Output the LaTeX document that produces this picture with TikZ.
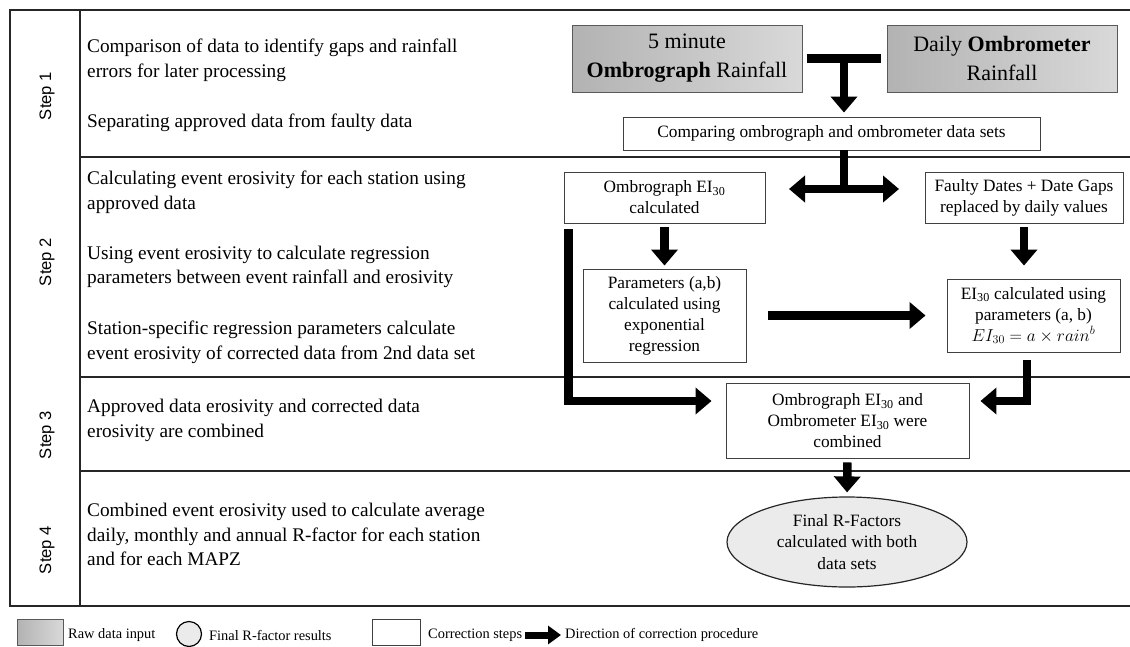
\documentclass[tikz,border=0pt]{standalone}
\usepackage{fontspec}
\setmainfont{Liberation Serif}
\newfontfamily\stepfont{Liberation Sans}
\usetikzlibrary{arrows.meta, shapes.geometric}

\begin{document}
\begin{tikzpicture}[x=1pt, y=-1pt,
    frameline/.style={line width=1.6pt, draw=black!85},
    rawbox/.style={draw=black!65, line width=1pt, left color=black!30, right color=black!15,
        minimum width=230pt, minimum height=67pt, align=center, inner sep=0pt,
        font=\fontsize{22}{29}\selectfont},
    stepbox/.style={draw=black!75, line width=0.9pt, fill=white, align=center, inner sep=0pt,
        font=\fontsize{17.3}{21}\selectfont},
    result/.style={ellipse, draw=black!85, line width=1.2pt, fill=black!8, align=center,
        inner sep=0pt, minimum width=240pt, minimum height=90pt,
        font=\fontsize{17.3}{21.5}\selectfont},
    note/.style={anchor=west, align=left, inner sep=0pt, font=\fontsize{19.3}{24.7}\selectfont},
    steplabel/.style={rotate=90, inner sep=0pt, font=\stepfont\fontsize{16.6}{20}\selectfont},
    legend/.style={anchor=west, inner sep=0pt, font=\fontsize{14.4}{17}\selectfont},
    bar/.style={line width=8.5pt},
    flow/.style={line width=8.5pt, -{Triangle[width=26pt,length=16pt]}},
    dflow/.style={line width=8.5pt, {Triangle[width=26pt,length=16pt]}-{Triangle[width=26pt,length=16pt]}}]

    \useasboundingbox (0,0) rectangle (1130,646);

    % Frame and step rows
    \draw[frameline] (1130,10) -- (10,10) -- (10,606) -- (1130,606);
    \draw[frameline] (80,10) -- (80,606);
    \foreach \y in {157,377,471} {
        \draw[frameline] (80,\y) -- (1130,\y);
    }

    % Step labels
    \foreach \n/\y in {1/96,2/262,3/435,4/550} {
        \node[steplabel] (step\n) at (47,\y) {Step \n};
    }

    % Step descriptions
    \node[note] (s1a) at (87,60.5) {Comparison of data to identify gaps and rainfall\\errors for later processing};
    \node[note] (s1b) at (87,123) {Separating approved data from faulty data};
    \node[note] (s2a) at (87,192) {Calculating event erosivity for each station using\\approved data};
    \node[note] (s2b) at (87,267) {Using event erosivity to calculate regression\\parameters between event rainfall and erosivity};
    \node[note] (s2c) at (87,342.5) {Station-specific regression parameters calculate\\event erosivity of corrected data from 2nd data set};
    \node[note] (s3a) at (87,420.5) {Approved data erosivity and corrected data\\erosivity are combined};
    \node[note] (s4a) at (87,534.5) {Combined event erosivity used to calculate average\\daily, monthly and annual R-factor for each station\\and for each MAPZ};

    % Raw data
    \node[rawbox] (raw1) at (687,58.5) {5 minute\\\textbf{Ombrograph} Rainfall};
    \node[rawbox] (raw2) at (1002,58.5) {Daily \textbf{Ombrometer}\\Rainfall};

    % Correction steps
    \node[stepbox, minimum width=417pt, minimum height=33pt] (cmp) at (831.5,133.5) {Comparing ombrograph and ombrometer data sets};
    \node[stepbox, minimum width=201pt, minimum height=51pt] (eiA) at (664.5,197.5) {Ombrograph EI\textsubscript{30}\\calculated};
    \node[stepbox, minimum width=198pt, minimum height=51pt] (gaps) at (1024,197.5) {Faulty Dates + Date Gaps\\replaced by daily values};
    \node[stepbox, minimum width=163pt, minimum height=93pt] (param) at (664.5,315.5) {Parameters (a,b)\\calculated using\\exponential\\regression};
    \node[stepbox, minimum width=173pt, minimum height=73pt] (eiB) at (1033.5,315.5) {EI\textsubscript{30} calculated using\\parameters (a, b)\\$EI_{30} = a \times rain^{b}$};
    \node[stepbox, minimum width=243pt, minimum height=75pt] (comb) at (847.5,420.5) {Ombrograph EI\textsubscript{30} and\\Ombrometer EI\textsubscript{30} were\\combined};

    % Result
    \node[result] (final) at (847,542) {Final R-Factors\\calculated with both\\data sets};

    % Connectors
    \coordinate (tee) at (844,58.5);
    \coordinate (split) at (844,189);
    \coordinate (sl) at (789,189);
    \coordinate (sr) at (899,189);
    \draw[bar] ([xshift=4pt]raw1.east) -- ([xshift=-6pt]raw2.west);
    \draw[flow, shorten >=4pt] (tee) -- (tee |- cmp.north);
    \draw[bar] (split |- cmp.south) -- (split);
    \draw[dflow] (sl) -- (sr);
    \draw[flow, shorten <=4pt, shorten >=3pt] (eiA.south) -- (param.north);
    \draw[flow, shorten <=4pt, shorten >=13pt] (gaps.south) -- (gaps.south |- eiB.north);
    \draw[flow, shorten <=22pt, shorten >=21pt] (param.east) -- (param.east -| eiB.west);
    \draw[flow, shorten >=14pt] ([xshift=5pt,yshift=-6pt]eiA.south west) |- ([yshift=19.5pt]comb.west);
    \draw[flow, shorten >=11pt] ([xshift=-6.5pt,yshift=-8pt]eiB.south) |- ([yshift=19.5pt]comb.east);
    \draw[flow, shorten <=4pt, shorten >=4pt] (comb.south) -- (final.north);

    % Legend
    \draw[draw=black!65, left color=black!30, right color=black!15] (17,619) rectangle (63,645.5);
    \node[legend] (lg1) at (68,635) {Raw data input};
    \node[circle, draw, line width=1.2pt, fill=black!8, minimum size=25pt, inner sep=0pt] (lgc) at (189,634) {};
    \node[legend] (lg2) at (209,635) {Final R-factor results};
    \draw[draw=black!75, line width=0.9pt, fill=white] (372,619) rectangle (420,645.5);
    \node[legend] (lg3) at (428,635) {Correction steps};
    \node[legend] (lg4) at (565,635) {Direction of correction procedure};
    \draw[line width=7pt, -{Triangle[width=18pt,length=13pt]}, shorten <=3pt, shorten >=4pt] (lg3.east) -- (lg4.west);
\end{tikzpicture}
\end{document}
